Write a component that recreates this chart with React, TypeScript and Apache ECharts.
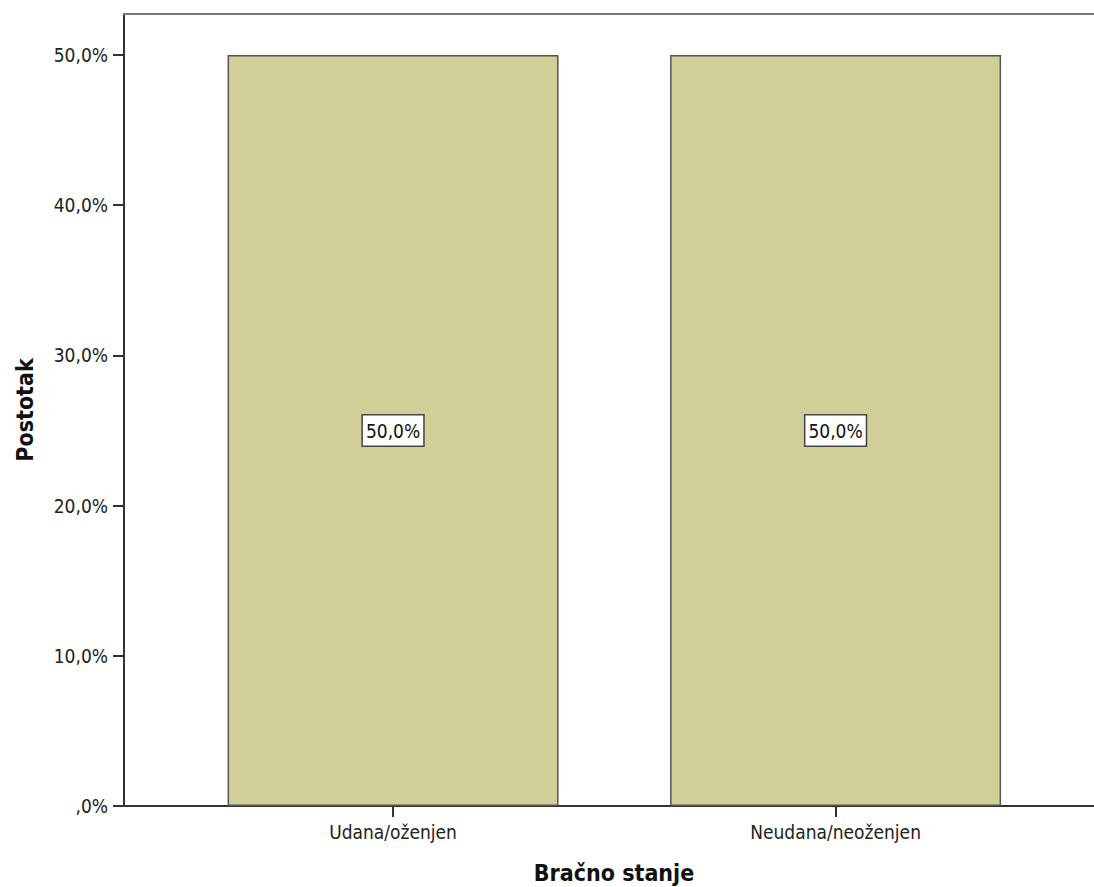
import React, { useEffect, useRef } from "react";
import * as echarts from "echarts";

const categories = ["Udana/oženjen", "Neudana/neoženjen"];
const percentages = [50.0, 50.0];
const yTicks = [0, 10, 20, 30, 40, 50];
const xTitle = "Bračno stanje";
const yTitle = "Postotak";

const fmtPct = (v: number) => (v === 0 ? ",0%" : v.toFixed(1).replace(".", ",") + "%");

export default function App() {
  const ref = useRef<HTMLDivElement>(null);
  useEffect(() => {
    document.body.style.margin = "0";
    const chart = echarts.init(ref.current!, null, { renderer: "svg" });
    const positions = categories.map((_, i) => i + 1);
    const font = "'DejaVu Sans Condensed', 'Liberation Sans', sans-serif";
    chart.setOption({
      animation: false,
      textStyle: { fontFamily: font },
      grid: { left: 124, top: 14, right: 0, bottom: 81 },
      xAxis: [
        {
          type: "value",
          min: 0.392,
          max: 2.584,
          splitLine: { show: false },
          axisLine: { show: true, lineStyle: { color: "#333", width: 2 } },
          axisTick: { show: true, length: 11, customValues: positions, lineStyle: { color: "#333", width: 2 } },
          axisLabel: {
            customValues: positions,
            formatter: (v: number) => categories[Math.round(v) - 1] ?? "",
            color: "#222",
            fontSize: 19,
            margin: 16,
            fontFamily: font,
          },
        },
        {
          type: "value",
          position: "top",
          min: 0.392,
          max: 2.584,
          splitLine: { show: false },
          axisLine: { show: true, lineStyle: { color: "#7a7a7a", width: 2 } },
          axisTick: { show: false },
          axisLabel: { show: false },
        },
      ],
      yAxis: {
        type: "value",
        min: 0,
        max: 52.73,
        name: yTitle,
        nameLocation: "middle",
        nameGap: 88,
        nameRotate: 90,
        nameTextStyle: { fontSize: 23, fontWeight: "bold", color: "#111", fontFamily: font },
        splitLine: { show: false },
        axisLine: { show: true, lineStyle: { color: "#333", width: 2 } },
        axisTick: { show: true, length: 11, customValues: yTicks, lineStyle: { color: "#333", width: 2 } },
        axisLabel: {
          customValues: yTicks,
          formatter: fmtPct,
          color: "#222",
          fontSize: 19,
          margin: 16,
          fontFamily: font,
        },
      },
      graphic: [
        {
          type: "text",
          x: 614,
          y: 873,
          style: {
            text: xTitle,
            font: `bold 23px ${font}`,
            fill: "#111",
            textAlign: "center",
            textVerticalAlign: "middle",
          },
        },
      ],
      series: [
        {
          type: "bar",
          xAxisIndex: 0,
          barWidth: 331,
          data: positions.map((p, i) => [p, percentages[i]]),
          itemStyle: { color: "#D2CE97", borderColor: "#555", borderWidth: 1.5 },
          label: {
            show: true,
            position: "inside",
            formatter: (p: any) => fmtPct(p.value[1]),
            color: "#111",
            fontSize: 19,
            fontFamily: font,
            backgroundColor: "#fff",
            borderColor: "#444",
            borderWidth: 1.5,
            padding: [6, 3, 5, 3],
          },
        },
      ],
    });
    return () => chart.dispose();
  }, []);
  return <div ref={ref} style={{ width: 1094, height: 887 }} />;
}
